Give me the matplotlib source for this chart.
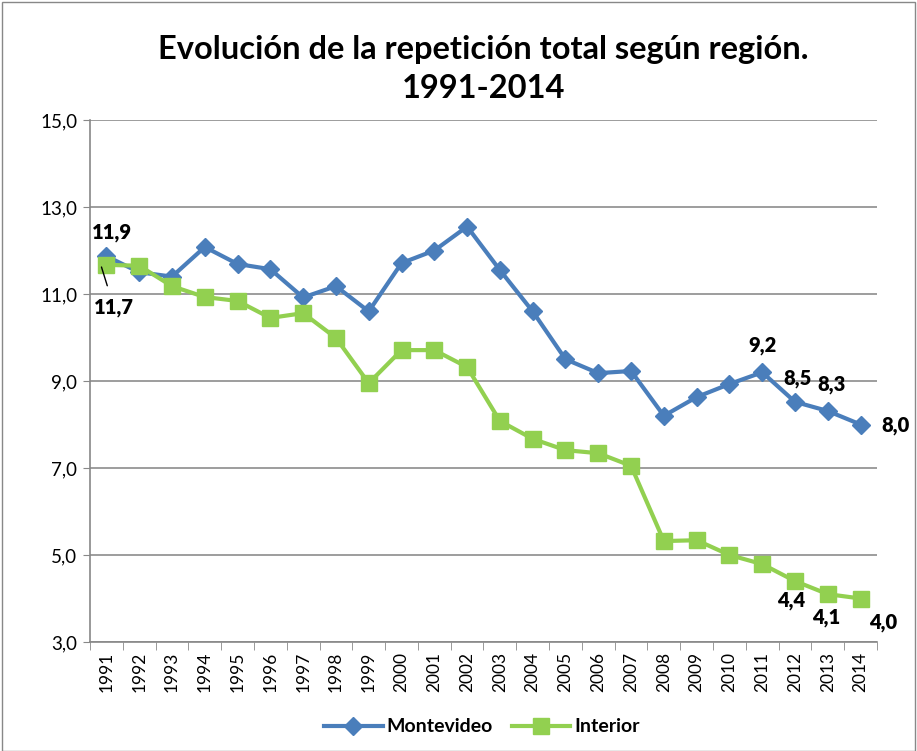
import matplotlib
matplotlib.use("Agg")
import matplotlib.pyplot as plt
from matplotlib.patches import Rectangle

years = [str(y) for y in range(1991, 2015)]
montevideo = [11.87, 11.5, 11.4, 12.08, 11.69, 11.57, 10.92, 11.18, 10.6, 11.71, 12.0, 12.55,
              11.55, 10.6, 9.5, 9.18, 9.23, 8.2, 8.63, 8.93, 9.2, 8.52, 8.31, 8.0]
interior = [11.67, 11.65, 11.18, 10.93, 10.84, 10.45, 10.56, 9.99, 8.95, 9.71, 9.71, 9.32,
            8.08, 7.67, 7.41, 7.34, 7.05, 5.32, 5.34, 5.0, 4.79, 4.4, 4.1, 4.0]
yticks = [3.0, 5.0, 7.0, 9.0, 11.0, 13.0, 15.0]

plt.rcParams['font.family'] = ['Lato', 'DejaVu Sans']

W, H = 917, 751
fig = plt.figure(figsize=(W/100, H/100), dpi=100)
ax = fig.add_axes([90/W, 1-642/H, (877-90)/W, (642-120)/H])

x = list(range(len(years)))
blue = '#4a7ebb'
green = '#92d050'
ax.plot(x, montevideo, color=blue, lw=3, marker='D', ms=9, label='Montevideo', zorder=3)
ax.plot(x, interior, color=green, lw=3, marker='s', ms=11, label='Interior', zorder=4)

ax.set_xlim(-0.5, len(years)-0.5)
ax.set_ylim(3, 15)
ax.set_yticks(yticks)
ax.set_yticklabels([f"{v:.1f}".replace('.', ',') for v in yticks], fontsize=13.5)
ax.set_xticks(x)
ax.set_xticklabels(years, rotation=90, fontsize=12.5)
ax.set_xticks([i-0.5 for i in range(len(years)+1)], minor=True)
ax.tick_params(axis='x', which='major', length=0, pad=7)
ax.tick_params(axis='x', which='minor', length=6, color='#888888')
ax.tick_params(axis='y', length=5, color='#888888', pad=4)
ax.grid(axis='y', color='#8c8c8c', lw=1.2)
ax.set_axisbelow(True)
for s in ['top', 'right']:
    ax.spines[s].set_visible(False)
for s in ['left', 'bottom']:
    ax.spines[s].set_color('#888888')
    ax.spines[s].set_linewidth(1.2)

fs = 14.5
def lab(i, series, dx, dy, **kw):
    v = series[i]
    ax.annotate(f"{v:.1f}".replace('.', ','), (i, v), xytext=(dx, dy), textcoords='offset points',
                ha='center', va='center', fontsize=fs, fontweight='heavy', zorder=6, **kw)

lab(0, montevideo, 4, 17)
ax.annotate("11,7", (-0.15, interior[0] - 0.05), xytext=(9, -29), textcoords='offset points',
            ha='center', va='center', fontsize=fs, fontweight='heavy', zorder=6,
            arrowprops=dict(arrowstyle='-', color='black', lw=1, shrinkA=7, shrinkB=0))
lab(20, montevideo, 0, 19)
lab(21, montevideo, 2, 17)
lab(22, montevideo, 3, 19)
lab(23, montevideo, 25, -1)
lab(21, interior, -3, -14)
lab(22, interior, -1, -17)
lab(23, interior, 16, -17)

ax.set_title("Evolución de la repetición total según región.\n1991-2014", fontsize=23.5,
             fontweight='bold', pad=16, linespacing=1.4)

leg = fig.legend(loc='center', bbox_to_anchor=(482/W, 1-727/H), ncol=2, frameon=False,
                 prop={'size': 14, 'weight': 'bold'}, handlelength=3.0, columnspacing=1.0,
                 handletextpad=0.2)
fig.patches.append(Rectangle((2/W, 0), 1-4/W, 1-2/H, transform=fig.transFigure,
                             fill=False, edgecolor='#888888', lw=1))
fig.savefig('out.png', dpi=100)
